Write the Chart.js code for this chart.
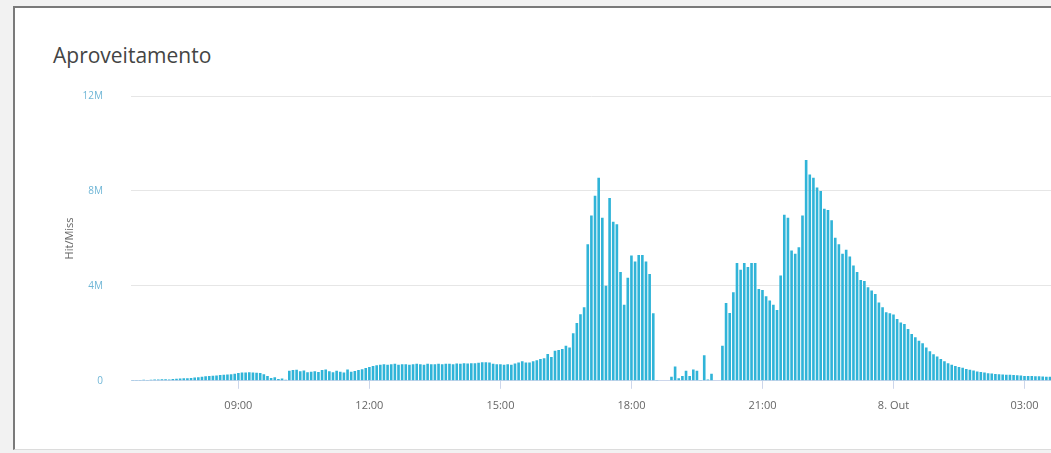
<!DOCTYPE html>
<html>
<head>
<meta charset="utf-8">
<script src="https://cdn.jsdelivr.net/npm/chart.js@4/dist/chart.umd.min.js"></script>
<style>
  html, body { margin: 0; padding: 0; background: #f2f2f2; overflow: hidden; }
  .card {
    position: absolute; left: 13px; top: 6px; width: 1100px; height: 441px;
    background: #fff; border-left: 2px solid #7a7a7a; border-top: 2px solid #7a7a7a;
    border-bottom: 1px solid #dcdcdc;
  }
  .title {
    position: absolute; left: 53px; top: 45px;
    font-family: "Open Sans", sans-serif; font-size: 21px; line-height: 21px; color: #444;
  }
  .wrap { position: absolute; left: 0; top: 0; width: 1060px; height: 453px; }
</style>
</head>
<body>
<div class="card"></div>
<div class="title">Aproveitamento</div>
<div class="wrap"><canvas id="myChart"></canvas></div>

<script>
// 5 minute slots, 7 Out 06:35 -> 8 Out 03:35, values in millions
var startHour = 6, startMinute = 35, stepMinutes = 5;

var hitMiss = [
  0.03,0.03,0.03,0.04,0.03,0.04,0.05,0.06,0.07,0.07,0.06,0.08,0.09,0.1,0.11,0.11,0.12,0.14,0.15,0.17,
  0.19,0.2,0.21,0.22,0.24,0.25,0.27,0.28,0.3,
  0.33,0.35,0.35,0.36,0.35,0.34,0.33,
  0.28,0.2,0.12,0.15,0.08,0.1,0.04,
  0.42,0.46,0.47,0.4,0.43,0.36,0.38,0.4,0.37,0.45,0.48,0.4,0.36,0.42,
  0.38,0.35,0.48,0.38,0.41,0.45,0.49,0.54,0.58,
  0.62,0.66,0.68,0.7,0.68,0.7,0.72,0.68,0.7,0.7,0.68,0.7,0.72,0.7,0.68,0.72,0.7,0.7,0.72,0.7,
  0.72,0.72,0.7,0.73,0.72,0.74,0.73,0.74,0.74,0.76,0.78,0.78,0.77,0.72,0.7,
  0.7,
  0.68,0.7,0.68,0.73,0.77,0.82,0.77,0.77,0.82,0.87,
  0.92,0.95,1.13,1.0,1.27,1.3,1.34,1.48,1.4,
  2.0,2.44,2.8,3.1,5.75,6.97,7.8,8.56,
  6.87,4.0,7.7,6.7,6.6,4.58,3.2,4.34,5.28,5.03,5.3,5.3,5.03,4.5,2.85,0.03,
  0,0,0,
  0.17,0.6,0.11,0.2,0.42,0.2,0.48,0.42,0.03,1.08,0.06,0.3,0,0,
  1.48,3.28,2.86,3.73,4.96,4.68,4.96,4.79,4.96,4.96,3.87,3.83,3.56,3.38,3.2,2.98,4.44,7.0,6.87,5.49,
  5.35,5.63,6.97,9.3,
  8.69,8.56,8.14,8.0,7.25,7.2,6.76,6.03,5.75,5.35,5.52,5.24,4.86,4.58,4.25,4.2,3.94,3.8,3.66,3.3,
  3.1,2.89,2.85,2.79,2.6,2.46,2.39,2.18,1.97,1.83,1.69,1.58,1.4,
  1.25,1.12,1.02,0.92,0.82,0.74,0.68,0.62,0.58,0.55,0.5,0.47,0.43,0.39,0.37,0.35,0.32,0.31,0.29,0.28,
  0.27,0.26,0.25,0.24,0.23,0.22,0.2,0.2,0.2,0.19,0.19,0.18,0.17,0.17
];

var tickTimes  = ['09:00', '12:00', '15:00', '18:00', '21:00', '00:00', '03:00'];
var tickLabels = ['09:00', '12:00', '15:00', '18:00', '21:00', '8. Out', '03:00'];
var yTicks = [0, 4, 8, 12];

var pad = function (n) { return (n < 10 ? '0' : '') + n; };
var slots = [];
for (var i = 0; i < hitMiss.length; i++) {
  var m = startHour * 60 + startMinute + i * stepMinutes;
  slots.push(pad(Math.floor(m / 60) % 24) + ':' + pad(m % 60));
}

var ctx = document.getElementById('myChart');
var myChart = new Chart(ctx, {
  type: 'bar',
  data: {
    labels: slots,
    datasets: [{
      label: 'Hit/Miss',
      data: hitMiss,
      backgroundColor: '#30b4d8',
      categoryPercentage: 1,
      barPercentage: 0.72
    }]
  },
  options: {
    responsive: true,
    maintainAspectRatio: false,
    animation: false,
    layout: { padding: { left: 59, top: 96, right: 7, bottom: 31 } },
    plugins: { legend: { display: false }, tooltip: { enabled: false } },
    scales: {
      x: {
        grid: {
          offset: false, drawOnChartArea: false, drawTicks: true, tickLength: 8,
          color: function (c) {
            return tickTimes.indexOf(slots[c.index]) < 0 ? 'rgba(0,0,0,0)' : '#ccd6eb';
          }
        },
        border: { display: true, color: '#ccd6eb' },
        ticks: {
          autoSkip: false, maxRotation: 0, padding: 10,
          color: '#666', font: { family: 'Open Sans', size: 11 },
          callback: function (v, idx) {
            var k = tickTimes.indexOf(slots[idx]);
            return k < 0 ? '' : tickLabels[k];
          }
        }
      },
      y: {
        min: 0, max: 12,
        afterBuildTicks: function (axis) {
          axis.ticks = yTicks.map(function (v) { return { value: v }; });
        },
        afterFit: function (axis) { axis.width = 72; },
        grid: { color: '#e6e6e6', drawTicks: false },
        border: { display: false },
        ticks: {
          padding: 28, color: '#6fb6d6', font: { family: 'Open Sans', size: 10 },
          callback: function (v) { return v === 0 ? '0' : v + 'M'; }
        },
        title: {
          display: true, text: 'Hit/Miss', color: '#666',
          font: { family: 'Open Sans', size: 11 }, padding: { top: 4, bottom: 6 }
        }
      }
    }
  }
});
</script>
</body>
</html>
